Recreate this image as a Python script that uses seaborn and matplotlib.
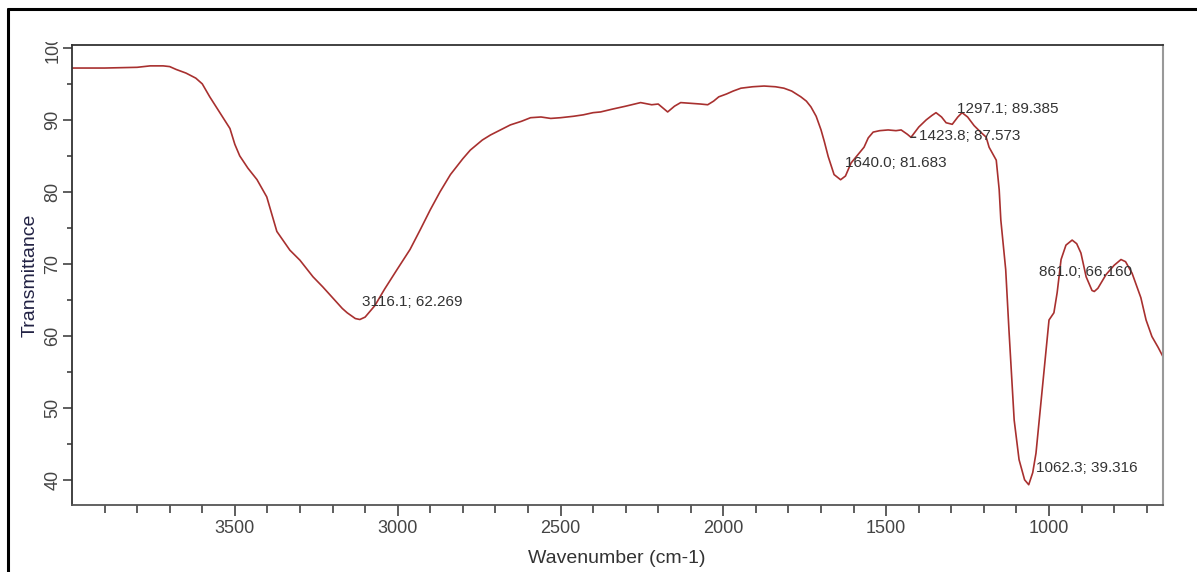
import matplotlib
matplotlib.use("Agg")
import numpy as np
import pandas as pd
import matplotlib.pyplot as plt
import seaborn as sns
from matplotlib.lines import Line2D
from matplotlib.ticker import MultipleLocator, FixedLocator
from matplotlib.transforms import Bbox, TransformedBbox

# FTIR spectrum
wavenumber = [
    4000, 3900, 3800, 3760, 3720, 3700, 3680, 3650, 3620, 3600,
    3577, 3546, 3515, 3500, 3485, 3460, 3432, 3402, 3371,
    3331, 3300, 3260, 3230, 3198, 3170, 3155, 3130, 3116.1, 3100,
    3070, 3040, 3002, 2962, 2930, 2900, 2870, 2838, 2800, 2777,
    2740, 2715, 2680, 2654, 2620, 2592, 2560, 2530, 2500, 2460,
    2430, 2400, 2377, 2340, 2300, 2254, 2220, 2200, 2171, 2150,
    2131, 2100, 2070, 2048, 2030, 2014, 1990, 1970, 1946, 1910,
    1875, 1840, 1814, 1790, 1762, 1745, 1731, 1715, 1700, 1690,
    1678, 1660, 1640.0, 1625, 1608, 1590, 1568, 1555, 1540, 1520,
    1494, 1470, 1454, 1435, 1423.8, 1410, 1400, 1377, 1360, 1347,
    1330, 1316, 1297.1, 1280, 1267, 1250, 1230, 1210, 1193, 1184,
    1162, 1153, 1148, 1133, 1123, 1107, 1092, 1075, 1062.3, 1050,
    1040, 1020, 1000, 985, 975, 963, 948, 929, 915, 902,
    886, 868, 861.0, 850, 825, 800, 779, 765, 745, 718,
    702, 684, 665, 650,
]
transmittance = [
    97.2, 97.2, 97.3, 97.5, 97.5, 97.4, 97.0, 96.5, 95.8, 95.0,
    93.2, 91.0, 88.8, 86.6, 85.0, 83.3, 81.7, 79.3, 74.5,
    71.9, 70.5, 68.2, 66.8, 65.2, 63.8, 63.2, 62.4, 62.269, 62.6,
    64.2, 66.5, 69.2, 72.0, 74.8, 77.5, 80.0, 82.4, 84.6, 85.8,
    87.2, 87.9, 88.7, 89.3, 89.8, 90.3, 90.4, 90.2, 90.3, 90.5,
    90.7, 91.0, 91.1, 91.5, 91.9, 92.4, 92.1, 92.2, 91.1, 91.9,
    92.4, 92.3, 92.2, 92.1, 92.6, 93.2, 93.6, 94.0, 94.4, 94.6,
    94.7, 94.6, 94.4, 94.0, 93.2, 92.6, 91.8, 90.5, 88.6, 87.0,
    84.9, 82.4, 81.683, 82.2, 84.0, 85.0, 86.2, 87.5, 88.3, 88.5,
    88.6, 88.5, 88.6, 88.0, 87.573, 88.4, 89.0, 90.0, 90.6, 91.0,
    90.4, 89.6, 89.385, 90.4, 91.0, 90.4, 89.2, 88.3, 87.6, 86.2,
    84.4, 80.3, 76.1, 69.2, 60.8, 48.3, 42.8, 40.0, 39.316, 41.0,
    43.7, 53.0, 62.2, 63.2, 66.0, 70.6, 72.6, 73.3, 72.8, 71.5,
    68.2, 66.3, 66.160, 66.6, 68.5, 69.8, 70.6, 70.3, 68.7, 65.3,
    62.2, 59.9, 58.4, 57.1,
]

# peak labels and where the text sits relative to the peak (pixels)
peak_wn = [3116.1, 1640.0, 1423.8, 1297.1, 1062.3, 861.0]
peak_t = [62.269, 81.683, 87.573, 89.385, 39.316, 66.160]
peak_offsets = [(2, 17), (4, 17), (8, 1), (5, 15), (7, 17), (-55, 19)]

x_major = [3500, 3000, 2500, 2000, 1500, 1000]
x_minor = [w for w in range(3900, 600, -100) if w not in x_major]

df = pd.DataFrame({"wavenumber": wavenumber, "transmittance": transmittance})

sns.set_style("ticks")
plt.rcParams["font.family"] = ["Liberation Sans", "DejaVu Sans"]

W, H = 1197, 572
fig = plt.figure(figsize=(W / 100, H / 100), dpi=100)
ax = fig.add_axes([72 / W, 1 - 505 / H, 1091 / W, 460 / H])

sns.lineplot(data=df, x="wavenumber", y="transmittance", ax=ax,
             color="#a8302f", lw=1.2)

ax.set_xlim(4000, 650)
ax.set_ylim(36.5, 100.4)

ax.xaxis.set_major_locator(FixedLocator(x_major))
ax.xaxis.set_minor_locator(FixedLocator(x_minor))
ax.yaxis.set_major_locator(FixedLocator([40, 50, 60, 70, 80, 90, 100]))
ax.yaxis.set_minor_locator(MultipleLocator(5))

ax.tick_params(axis="x", which="major", length=8, width=1.1, color="#333333",
               labelsize=13, labelcolor="#444444", pad=3)
ax.tick_params(axis="x", which="minor", length=5.5, width=1.1, color="#333333")
ax.tick_params(axis="y", which="major", length=6.5, width=1.1, color="#333333",
               labelsize=13, labelcolor="#444444", pad=1)
ax.tick_params(axis="y", which="minor", length=3.5, width=1.1, color="#333333")
for lab in ax.get_yticklabels():
    lab.set_rotation(90)
    lab.set_va("center")

for side in ["left", "top"]:
    ax.spines[side].set_color("#333333")
    ax.spines[side].set_linewidth(1.3)
ax.spines["bottom"].set_color("#555555")
ax.spines["bottom"].set_linewidth(1.3)
ax.spines["right"].set_color("#999999")
ax.spines["right"].set_linewidth(1.5)

ax.set_xlabel("Wavenumber (cm-1)", fontsize=14, color="#333333")
ax.set_ylabel("Transmittance", fontsize=14, color="#222244")
ax.xaxis.set_label_coords(0.499, -0.098)
ax.yaxis.set_label_coords(-0.031, 0.5)

for w, t, off in zip(peak_wn, peak_t, peak_offsets):
    label = f"{w:.1f}; {t:.3f}"
    kw = {}
    if w == 1423.8:
        kw["arrowprops"] = dict(arrowstyle="-", color="#333333", lw=1,
                                shrinkA=0, shrinkB=0)
    ax.annotate(label, xy=(w, t), xytext=off, textcoords="offset pixels",
                ha="left", va="center", fontsize=11, color="#333333", **kw)

# the "100" label is cut off by the panel edge in the original
clip = TransformedBbox(Bbox.from_extents(0, 0, 1, 1 - 42 / H), fig.transFigure)
for tick in ax.yaxis.get_major_ticks():
    if tick.get_loc() == 100:
        tick.label1.set_clip_on(True)
        tick.label1.set_clip_box(clip)

# outer frame (only top and left edges are visible)
fig.add_artist(Line2D([8 / W, 1], [1 - 9 / H, 1 - 9 / H],
                      transform=fig.transFigure, color="black", lw=2.2))
fig.add_artist(Line2D([8 / W, 8 / W], [0, 1 - 9 / H],
                      transform=fig.transFigure, color="black", lw=2.2))

fig.savefig("out.png", dpi=100)
